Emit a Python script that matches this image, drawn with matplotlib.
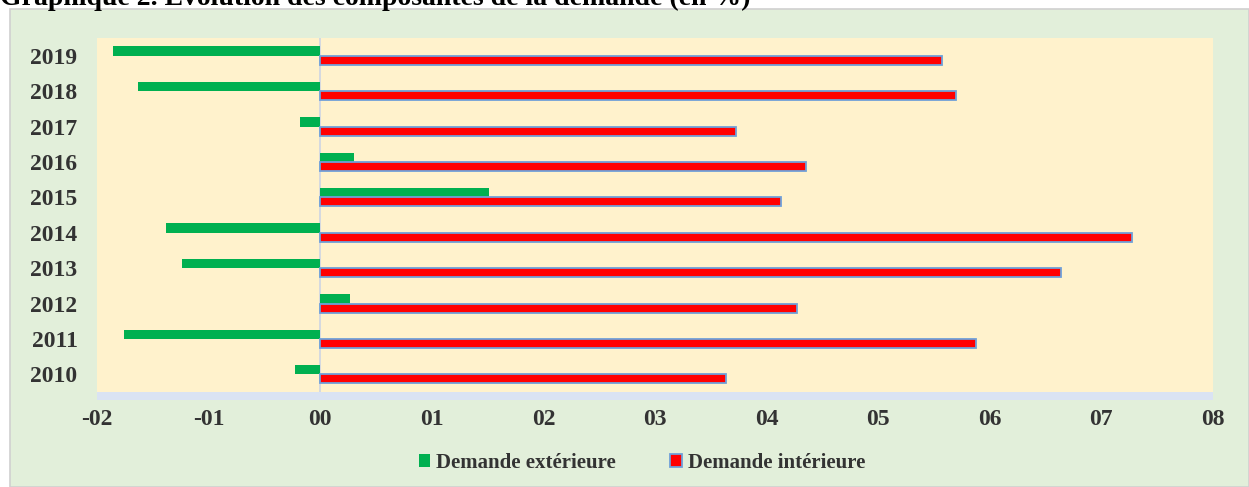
import matplotlib.pyplot as plt
from matplotlib.patches import Rectangle, Patch

# data (en %)
years = ['2010', '2011', '2012', '2013', '2014', '2015', '2016', '2017', '2018', '2019']
demande_exterieure = [-0.23, -1.76, 0.27, -1.24, -1.38, 1.51, 0.30, -0.18, -1.63, -1.86]
demande_interieure = [3.64, 5.88, 4.27, 6.64, 7.27, 4.13, 4.35, 3.73, 5.70, 5.57]
x_ticks = [-2, -1, 0, 1, 2, 3, 4, 5, 6, 7, 8]
x_tick_labels = ['-02', '-01', '00', '01', '02', '03', '04', '05', '06', '07', '08']

plt.rcParams['font.family'] = ['Liberation Serif', 'DejaVu Serif']
plt.rcParams['font.weight'] = 'bold'

fig = plt.figure(figsize=(12.49, 4.87), dpi=100)
fig.patch.set_facecolor('white')

# light green frame behind the chart
frame = Rectangle((10 / 1249, 0), 1 - 10 / 1249, 1 - 9 / 487, transform=fig.transFigure,
                  facecolor='#E2EFDA', edgecolor='#D0D0D0', linewidth=1.2, zorder=-5)
fig.patches.append(frame)

fig.text(0.0, 1 - 5 / 487, 'Graphique 2. Evolution des composantes de la demande (en %)',
         fontsize=20, fontweight='bold', color='black', va='baseline', ha='left')

ax = fig.add_axes([97 / 1249, 1 - 392 / 487, (1213 - 97) / 1249, (392 - 38) / 487])
ax.set_zorder(2)
ax.set_facecolor('#FFF2CC')

# floor strip under the plot area
ax.add_patch(Rectangle((0, -8 / 354), 1, 8 / 354, transform=ax.transAxes,
                       facecolor='#DAE3F3', edgecolor='none', clip_on=False))

pos = list(range(len(years)))
h = 0.27
ax.barh([p + 0.13 for p in pos], demande_exterieure, height=h, color='#00B050',
        label='Demande extérieure', zorder=3)
ax.barh([p - 0.13 for p in pos], demande_interieure, height=0.25, color='#FF0000',
        edgecolor='#6FA0D8', linewidth=1.3, label='Demande intérieure', zorder=3)

ax.axvline(0, color='#CDD5E3', linewidth=1.2, zorder=2)

ax.set_xlim(-2, 8)
ax.set_ylim(-0.5, len(years) - 0.5)
ax.set_yticks(pos)
ax.set_yticklabels(years)
ax.set_xticks(x_ticks)
ax.set_xticklabels(x_tick_labels)
ax.tick_params(axis='both', length=0, labelsize=17, labelcolor='#333333')
ax.tick_params(axis='y', pad=14)
ax.tick_params(axis='x', pad=12)
for s in ax.spines.values():
    s.set_visible(False)

handles = [Patch(facecolor='#00B050', edgecolor='none'),
           Patch(facecolor='#FF0000', edgecolor='#6FA0D8', linewidth=1.3)]
leg = fig.legend(handles, ['Demande extérieure', 'Demande intérieure'],
                 loc='center', bbox_to_anchor=(0.514, 1 - 463 / 487), ncol=2,
                 frameon=False, fontsize=15, handlelength=0.55, handleheight=0.55,
                 handletextpad=0.3, columnspacing=2.6)
leg.set_zorder(3)
for t in leg.get_texts():
    t.set_color('#333333')

fig.savefig('out.png', dpi=100, facecolor=fig.get_facecolor())
